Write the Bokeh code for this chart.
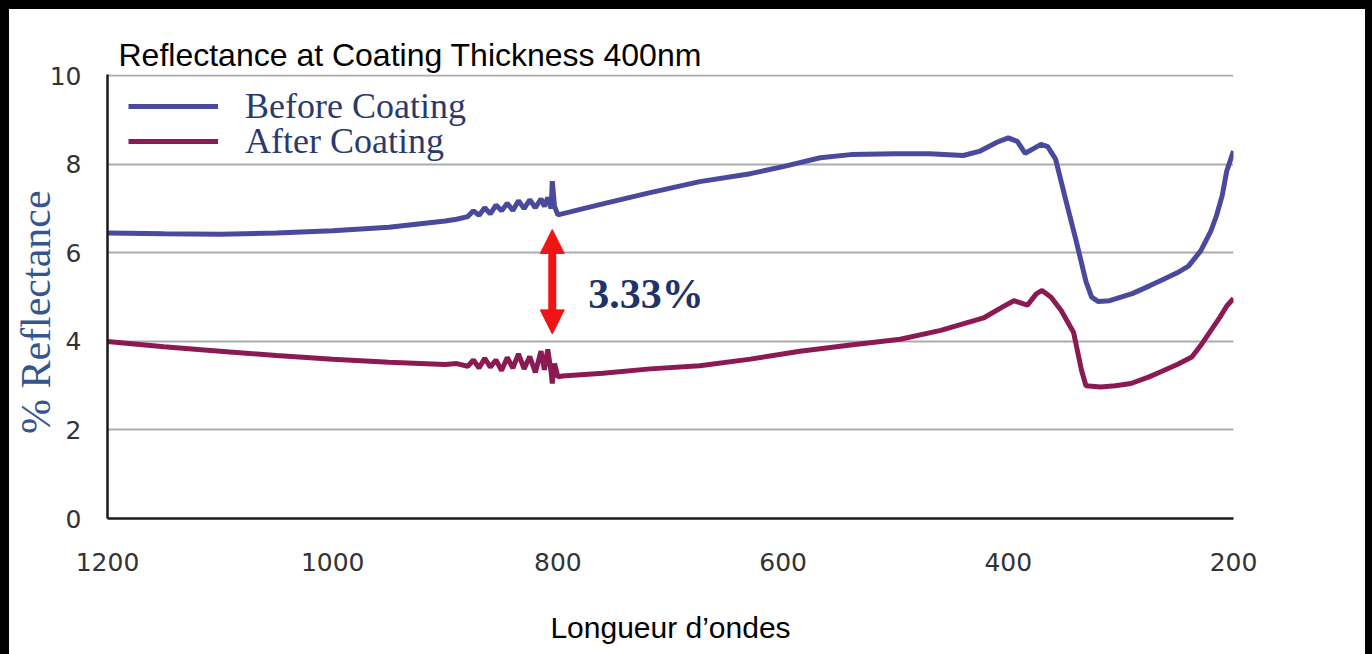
from bokeh.plotting import figure
from bokeh.models import (Range1d, FixedTicker, Label, Arrow, NormalHead, Legend, LegendItem, Div)
from bokeh.layouts import row, column
from bokeh.embed import file_html
from bokeh.resources import INLINE

# ---------------- data ----------------
wavelength_before = [1200, 1150, 1100, 1050, 1000, 950, 900, 890, 880, 875, 870, 865, 860, 855,
                     850, 845, 840, 835, 830, 825, 820, 815, 812, 809, 806, 805, 803, 800,
                     790, 763, 720, 674, 629, 600, 567, 540, 500, 470, 440, 425, 410, 400,
                     392, 385, 378, 371, 365, 358, 349, 340, 331, 326, 320, 310, 300, 290,
                     275, 264, 250, 240, 229, 220, 215, 210, 206, 200]
before = [6.45, 6.43, 6.42, 6.45, 6.50, 6.58, 6.72, 6.76, 6.82, 6.95, 6.85, 7.02, 6.88, 7.08,
          6.95, 7.12, 6.96, 7.18, 7.00, 7.20, 7.02, 7.22, 7.05, 7.25, 7.00, 7.62, 7.05, 6.86,
          6.92, 7.09, 7.35, 7.61, 7.79, 7.95, 8.15, 8.22, 8.24, 8.24, 8.20, 8.30, 8.50, 8.60,
          8.52, 8.25, 8.35, 8.45, 8.40, 8.12, 7.20, 6.30, 5.35, 5.00, 4.90, 4.92, 5.00, 5.08,
          5.25, 5.38, 5.55, 5.70, 6.05, 6.50, 6.85, 7.30, 7.85, 8.30]

wavelength_after = [1200, 1150, 1100, 1050, 1000, 950, 900, 890, 880, 875, 870, 865, 860, 855,
                    850, 845, 840, 835, 830, 825, 820, 815, 812, 809, 806, 805, 803, 800,
                    796, 760, 718, 674, 629, 585, 540, 496, 460, 422, 405, 395, 383, 375,
                    370, 362, 353, 342, 335, 331, 318, 305, 291, 275, 264, 250, 237, 228,
                    220, 212, 206, 200]
after = [4.00, 3.88, 3.78, 3.68, 3.60, 3.53, 3.48, 3.50, 3.44, 3.58, 3.40, 3.62, 3.42, 3.58,
         3.34, 3.64, 3.40, 3.72, 3.38, 3.66, 3.30, 3.78, 3.36, 3.82, 3.30, 3.05, 3.50, 3.20,
         3.22, 3.28, 3.38, 3.45, 3.60, 3.78, 3.92, 4.05, 4.25, 4.53, 4.78, 4.92, 4.82, 5.08,
         5.15, 5.00, 4.70, 4.20, 3.35, 3.00, 2.97, 3.00, 3.05, 3.20, 3.32, 3.48, 3.65, 3.95,
         4.25, 4.55, 4.80, 4.97]

series_names = ["Before Coating", "After Coating"]
x_ticks = [1200, 1000, 800, 600, 400, 200]
y_ticks = [0, 2, 4, 6, 8, 10]
gap_text = "3.33%"
gap_wavelength = 805
gap_low, gap_high = 4.17, 6.53

# ---------------- figure ----------------
W, H = 1356, 645
p = figure(width=W, height=H, output_backend="svg", toolbar_location=None,
           x_range=Range1d(1200, 200), y_range=Range1d(0, 10.03),
           min_border_left=98, min_border_right=132, min_border_top=65, min_border_bottom=136,
           background_fill_color="white", border_fill_color="white")
p.outline_line_color = None

p.title.text = "Reflectance at Coating Thickness 400nm"
p.title.text_font = "Liberation Sans"
p.title.text_font_size = "32px"
p.title.text_font_style = "normal"
p.title.text_color = "black"
p.title.offset = 11
p.title.standoff = 4

for ax in (p.xaxis[0], p.yaxis[0]):
    ax.axis_line_color = "#1a1a1a"
    ax.axis_line_width = 2.5
    ax.major_tick_line_color = None
    ax.minor_tick_line_color = None
    ax.major_tick_out = 0
    ax.major_tick_in = 0
    ax.major_label_text_font = "DejaVu Sans"
    ax.major_label_text_font_size = "25px"
    ax.major_label_text_color = "#333333"

p.xaxis.ticker = FixedTicker(ticks=x_ticks)
p.yaxis.ticker = FixedTicker(ticks=y_ticks)
p.xaxis.major_label_standoff = 34
p.yaxis.major_label_standoff = 26
p.xaxis.axis_label = "Longueur d\u2019ondes"
p.xaxis.axis_label_text_font = "Liberation Sans"
p.xaxis.axis_label_text_font_size = "30px"
p.xaxis.axis_label_text_font_style = "normal"
p.xaxis.axis_label_text_color = "black"
p.xaxis.axis_label_standoff = 37

# y-axis title (trailing no-break spaces shift it slightly down, as in the reference)
p.yaxis.axis_label = "% Reflectance\u00a0\u00a0\u00a0"
p.yaxis.axis_label_text_font = "Liberation Serif"
p.yaxis.axis_label_text_font_size = "42px"
p.yaxis.axis_label_text_font_style = "normal"
p.yaxis.axis_label_text_color = "#34558f"
p.yaxis.axis_label_standoff = -12

p.xgrid.visible = False
p.ygrid.grid_line_color = "#ababab"
p.ygrid.grid_line_width = 2

r1 = p.line(wavelength_before, before, line_color="#4a4a9c", line_width=5)
r2 = p.line(wavelength_after, after, line_color="#8c1a52", line_width=5)

legend_style = dict(padding=0, glyph_width=90, label_standoff=27, border_line_color=None,
                    background_fill_alpha=0, label_text_font="Liberation Serif",
                    label_text_font_size="36px", label_text_color="#2b3a6e")
leg1 = Legend(items=[LegendItem(label=series_names[0], renderers=[r1])],
              location=(21, 391), **legend_style)
leg2 = Legend(items=[LegendItem(label=series_names[1], renderers=[r2])],
              location=(21, 356), **legend_style)
p.add_layout(leg1)
p.add_layout(leg2)

red = "#f01414"
arrow = Arrow(x_start=gap_wavelength, y_start=gap_low, x_end=gap_wavelength, y_end=gap_high,
              start=NormalHead(size=24, fill_color=red, line_color=red),
              end=NormalHead(size=24, fill_color=red, line_color=red),
              line_color=red, line_width=8)
p.add_layout(arrow)

gap_label = Label(x=773, y=5.08, text=gap_text, text_align="left", text_baseline="alphabetic",
                  text_font="Liberation Serif", text_font_style="bold", text_font_size="42px",
                  text_color="#1f3368")
p.add_layout(gap_label)

# black frame around the picture (top, left, right)
top_bar = Div(text="", width=1372, height=9, margin=0, styles={"background-color": "black"})
left_bar = Div(text="", width=9, height=H, margin=0, styles={"background-color": "black"})
right_bar = Div(text="", width=7, height=H, margin=0, styles={"background-color": "black"})
layout = column(top_bar, row(left_bar, p, right_bar, spacing=0), spacing=0)

open("out.html", "w").write(file_html(layout, INLINE))
